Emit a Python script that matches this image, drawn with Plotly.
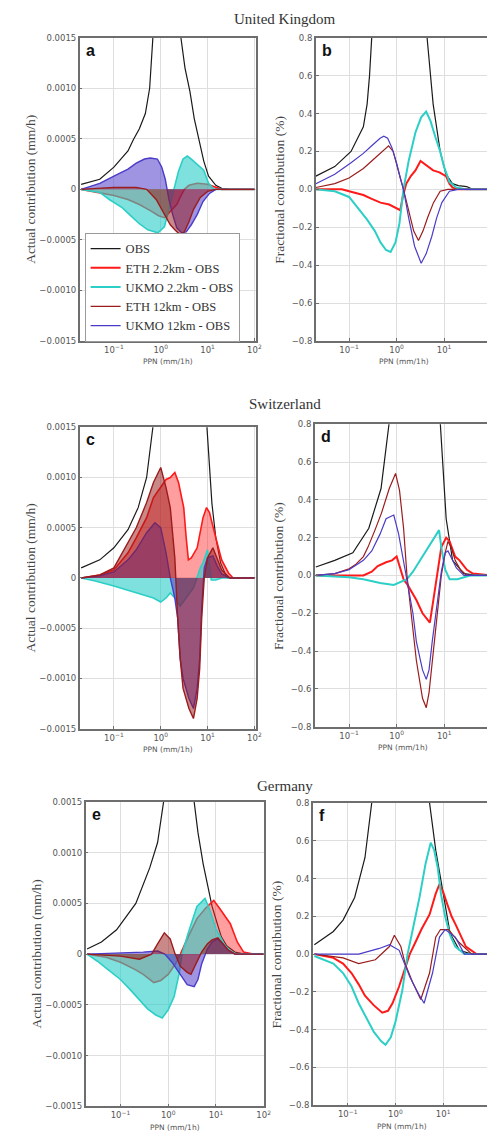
import plotly.graph_objects as go

# ---------------- data (x = PPN in mm/1h, y = contribution) ----------------
# United Kingdom - actual contribution (mm/h)
UK_OBS_ACT = [(0.02,0.00005),(0.05,0.0001),(0.1,0.00022),(0.2,0.00038),(0.26,0.00049),(0.35,0.0006),(0.47,0.00075),(0.58,0.001),(0.68,0.0015),(0.9,0.0022),(1.3,0.0028),(2.0,0.0025),(2.7,0.0015),(3.3,0.0012),(4.2,0.00097),(5.2,0.0007),(6.5,0.00049),(8.3,0.00028),(10.5,0.00013),(15,0.00004),(20,0.00001),(30,0),(100,0)]
UK_ETH22_ACT = [(0.02,0),(0.05,-0.00003),(0.1,-0.00006),(0.2,-0.0001),(0.35,-0.00015),(0.6,-0.00021),(0.9,-0.00026),(1.2,-0.00028),(1.6,-0.00022),(2.2,-0.00015),(2.8,-0.00005),(3.2,0),(4,0.00004),(6,0.00006),(10,0.00005),(15,0.00002),(20,0),(100,0)]
UK_UKMO22_ACT = [(0.02,0),(0.05,-0.00003),(0.08,-0.0001),(0.15,-0.00018),(0.24,-0.00027),(0.35,-0.00034),(0.53,-0.0004),(0.87,-0.00043),(1.2,-0.00037),(1.4,-0.00025),(1.6,-0.00014),(1.95,0),(2.4,0.00018),(3.0,0.0003),(3.7,0.00033),(4.5,0.0003),(6,0.00025),(8.3,0.00019),(10.5,0.00006),(13.7,0),(100,0)]
UK_ETH12_ACT = [(0.02,0),(0.1,0.00002),(0.3,0.00002),(0.5,0),(0.8,-0.0001),(1.0,-0.00018),(1.3,-0.00028),(1.6,-0.00035),(2.0,-0.0004),(2.6,-0.00045),(3.2,-0.00042),(4,-0.00032),(5,-0.0002),(7,-0.00008),(10,-0.00002),(15,0),(100,0)]
UK_UKMO12_ACT = [(0.02,0),(0.05,0.00006),(0.1,0.00013),(0.2,0.0002),(0.3,0.00026),(0.45,0.0003),(0.6,0.00031),(0.85,0.0003),(1.05,0.00022),(1.25,0.0001),(1.5,-0.0001),(1.8,-0.00025),(2.2,-0.00038),(2.8,-0.00043),(3.5,-0.00042),(4.5,-0.00035),(6,-0.00025),(8,-0.00012),(11,-0.00004),(15,0),(100,0)]
# United Kingdom - fractional contribution
UK_OBS_FRAC = [(0.02,0.07),(0.05,0.12),(0.11,0.2),(0.2,0.33),(0.24,0.45),(0.27,0.6),(0.3,0.8),(0.4,1.2),(1.0,2.0),(3.0,1.5),(4.4,0.8),(5.9,0.45),(8.3,0.2),(11,0.08),(15,0.03),(20,0.02),(30,0.015),(40,0),(100,0)]
UK_ETH22_FRAC = [(0.02,0),(0.07,0),(0.1,-0.01),(0.2,-0.03),(0.3,-0.05),(0.46,-0.07),(0.7,-0.08),(1.0,-0.1),(1.2,-0.11),(1.35,-0.04),(1.6,0.03),(2.0,0.07),(2.5,0.1),(3.2,0.15),(4.0,0.13),(5.9,0.1),(8,0.09),(11,0.07),(13,0.03),(15,0.01),(20,0),(100,0)]
UK_UKMO22_FRAC = [(0.02,0),(0.05,-0.01),(0.1,-0.04),(0.24,-0.16),(0.35,-0.22),(0.46,-0.28),(0.6,-0.32),(0.75,-0.33),(0.95,-0.28),(1.15,-0.18),(1.4,0),(1.8,0.15),(2.5,0.3),(3.3,0.38),(4.2,0.41),(5.2,0.36),(6.5,0.28),(8.3,0.2),(10,0.12),(13,0.04),(18,0.01),(30,0),(100,0)]
UK_ETH12_FRAC = [(0.02,0.01),(0.05,0.03),(0.1,0.06),(0.2,0.11),(0.3,0.15),(0.45,0.19),(0.68,0.23),(0.85,0.2),(1.0,0.14),(1.2,0.06),(1.4,0),(1.8,-0.12),(2.3,-0.22),(2.9,-0.27),(3.6,-0.22),(4.5,-0.15),(6,-0.07),(8.3,-0.01),(12,0),(100,0)]
UK_UKMO12_FRAC = [(0.02,0.03),(0.05,0.08),(0.11,0.14),(0.2,0.19),(0.3,0.23),(0.45,0.27),(0.54,0.28),(0.65,0.27),(0.8,0.22),(1.0,0.14),(1.2,0.06),(1.4,0),(1.8,-0.15),(2.4,-0.3),(3.3,-0.39),(4.2,-0.34),(5.5,-0.25),(7,-0.15),(9,-0.07),(13,-0.01),(20,0),(100,0)]

# Switzerland - actual contribution (mm/h)
CH_OBS_ACT = [(0.02,0.0001),(0.05,0.00018),(0.1,0.0003),(0.2,0.00048),(0.33,0.0007),(0.5,0.001),(0.68,0.0015),(1,0.0025),(3,0.004),(7,0.003),(9.7,0.0015),(12.4,0.00074),(15,0.0004),(19,0.00015),(26,0),(100,0)]
CH_ETH22_ACT = [(0.02,0),(0.05,0.00003),(0.1,0.00008),(0.2,0.00025),(0.3,0.0004),(0.5,0.0006),(0.7,0.0008),(1.0,0.0009),(1.3,0.00098),(1.6,0.001),(2.0,0.00105),(2.4,0.00095),(2.8,0.0008),(3.1,0.0007),(3.5,0.0004),(3.9,0.00018),(4.5,0.0002),(6,0.0003),(8,0.0006),(9.5,0.0007),(11,0.00065),(13,0.0005),(15,0.0004),(20,0.00018),(28,0.00005),(35,0),(100,0)]
CH_UKMO22_ACT = [(0.02,0),(0.04,-0.00003),(0.1,-0.00008),(0.2,-0.00012),(0.3,-0.00015),(0.5,-0.00018),(0.7,-0.0002),(1.0,-0.00024),(1.3,-0.0002),(1.6,-0.00015),(2.0,-0.0002),(2.6,-0.00028),(3.5,-0.0002),(5,-0.0001),(7,0.0001),(8,0.00015),(10,0.00028),(11,0.0001),(12,-0.00002),(15,-0.00002),(20,0),(100,0)]
CH_ETH12_ACT = [(0.02,0),(0.05,0.00003),(0.1,0.0001),(0.2,0.00035),(0.3,0.0005),(0.5,0.00075),(0.7,0.00095),(1.0,0.0011),(1.3,0.0009),(1.6,0.0007),(2.0,0.0002),(2.3,-0.0004),(2.6,-0.0008),(3.0,-0.0011),(4.0,-0.0013),(5,-0.0014),(6,-0.0012),(6.8,-0.0009),(7.5,-0.0004),(8.5,0),(10,0.0002),(13,0.0003),(16,0.0002),(20,0.00008),(30,0),(100,0)]
CH_UKMO12_ACT = [(0.02,0),(0.05,0.00002),(0.1,0.00006),(0.2,0.00018),(0.3,0.00028),(0.5,0.00045),(0.75,0.00055),(1.0,0.0005),(1.3,0.00025),(1.6,0),(2.0,-0.0002),(2.3,-0.0004),(2.6,-0.0008),(3.0,-0.001),(4.0,-0.0012),(5,-0.0013),(6,-0.0011),(6.8,-0.0008),(7.5,-0.0003),(8.5,0.0001),(10,0.0002),(13,0.00022),(16,0.00012),(20,0.00004),(30,0),(100,0)]
# Switzerland - fractional contribution
CH_OBS_FRAC = [(0.02,0.045),(0.05,0.08),(0.12,0.12),(0.26,0.25),(0.47,0.46),(0.69,0.8),(1,1.4),(2,1.8),(5,1.5),(8.3,0.8),(11,0.3),(15,0.08),(26,0.01),(50,0),(100,0)]
CH_ETH22_FRAC = [(0.02,0),(0.2,0),(0.3,0.02),(0.4,0.05),(0.6,0.07),(0.8,0.08),(1.0,0.1),(1.15,0.05),(1.4,-0.02),(1.7,-0.05),(2.2,-0.1),(2.6,-0.13),(3.5,-0.2),(4.3,-0.23),(5,-0.25),(6,-0.12),(7,0),(8.7,0.15),(11,0.2),(13,0.18),(17,0.1),(21,0.08),(30,0.03),(40,0.01),(100,0)]
CH_UKMO22_FRAC = [(0.02,0),(0.1,-0.01),(0.2,-0.02),(0.45,-0.04),(0.87,-0.05),(1.3,-0.03),(1.65,-0.02),(2.2,0.02),(3.1,0.08),(4.3,0.13),(5.6,0.18),(7,0.22),(7.8,0.24),(8.7,0.15),(10.5,0.03),(13,-0.02),(19,-0.02),(35,0),(100,0)]
CH_ETH12_FRAC = [(0.02,0),(0.05,0.01),(0.1,0.035),(0.14,0.06),(0.2,0.1),(0.25,0.15),(0.35,0.24),(0.48,0.33),(0.7,0.46),(0.95,0.54),(1.15,0.45),(1.4,0.25),(1.65,0),(2.0,-0.2),(2.6,-0.45),(3.5,-0.65),(4.2,-0.7),(4.8,-0.62),(5.6,-0.45),(7,-0.22),(8.7,0),(10.5,0.12),(12,0.18),(14,0.15),(17,0.08),(22,0.03),(30,0),(100,0)]
CH_UKMO12_FRAC = [(0.02,0),(0.05,0.01),(0.1,0.03),(0.2,0.08),(0.3,0.13),(0.45,0.22),(0.6,0.3),(0.87,0.32),(1.1,0.22),(1.4,0.08),(1.75,-0.05),(2.2,-0.2),(2.6,-0.35),(3.5,-0.5),(4.2,-0.55),(4.8,-0.5),(5.6,-0.35),(7,-0.15),(8.7,0.02),(10.5,0.12),(12,0.13),(15,0.08),(18,0.04),(26,0),(100,0)]

# Germany - actual contribution (mm/h)
DE_OBS_ACT = [(0.02,0.00005),(0.04,0.00012),(0.083,0.00024),(0.21,0.0005),(0.41,0.00085),(0.6,0.0011),(0.8,0.0015),(1.2,0.0022),(2,0.0026),(3,0.0022),(3.5,0.0015),(4.2,0.0012),(5.4,0.00089),(6.6,0.0007),(8.3,0.00047),(11,0.00028),(13,0.00017),(17,0.00008),(25,0.00002),(40,0),(100,0)]
DE_ETH22_ACT = [(0.02,0),(0.05,-0.00003),(0.1,-0.00008),(0.2,-0.00015),(0.3,-0.0002),(0.5,-0.00028),(0.7,-0.00026),(1,-0.0002),(1.4,-0.0001),(1.8,0),(2.5,0.00015),(4,0.00035),(6,0.00045),(9,0.00053),(12,0.00045),(16,0.00036),(20,0.0003),(28,0.00012),(38,0.00002),(60,0),(100,0)]
DE_UKMO22_ACT = [(0.02,0),(0.033,-0.00007),(0.054,-0.00015),(0.1,-0.00025),(0.16,-0.00035),(0.37,-0.00054),(0.55,-0.0006),(0.75,-0.00063),(1.0,-0.00055),(1.33,-0.00042),(1.7,-0.00019),(1.95,0),(2.6,0.0002),(4.0,0.00047),(5.9,0.00055),(7.5,0.00043),(10,0.00025),(14.7,0.0001),(20,0.00003),(27,0),(100,0)]
DE_ETH12_ACT = [(0.02,0),(0.1,-0.00002),(0.25,-0.00005),(0.45,0),(0.6,0.0001),(0.83,0.00021),(1.1,0.00015),(1.4,0),(1.8,-0.00012),(2.5,-0.00018),(3,-0.0002),(3.8,-0.0001),(5,0.00002),(6.6,0.0001),(8.3,0.00014),(11,0.00016),(14,0.0001),(18,0.00004),(25,0),(100,0)]
DE_UKMO12_ACT = [(0.02,0),(0.1,0.00001),(0.3,0.00002),(0.6,0.00003),(0.85,0),(1.2,-0.00008),(1.7,-0.00018),(2.5,-0.0003),(3.5,-0.00032),(4.2,-0.00025),(5,-0.0001),(6.6,0.00005),(8.3,0.00012),(11,0.00015),(14,0.0001),(18,0.00004),(25,0),(100,0)]
# Germany - fractional contribution
DE_OBS_FRAC = [(0.02,0.05),(0.05,0.12),(0.08,0.18),(0.14,0.3),(0.23,0.51),(0.33,0.8),(0.5,1.2),(1,2.0),(2,2.0),(4,1.1),(5.2,0.8),(7,0.55),(9.7,0.34),(14,0.11),(22,0.02),(40,0),(100,0)]
DE_ETH22_FRAC = [(0.02,0),(0.05,-0.02),(0.08,-0.05),(0.12,-0.1),(0.17,-0.16),(0.23,-0.22),(0.35,-0.27),(0.53,-0.31),(0.7,-0.3),(0.87,-0.26),(1.2,-0.17),(1.6,-0.08),(2.0,0),(2.6,0.06),(3.5,0.13),(5.2,0.21),(7,0.32),(8.4,0.37),(10,0.33),(12,0.27),(15,0.2),(18,0.16),(23,0.1),(30,0.04),(50,0),(100,0)]
DE_UKMO22_FRAC = [(0.02,-0.01),(0.05,-0.05),(0.08,-0.1),(0.12,-0.17),(0.17,-0.26),(0.25,-0.34),(0.35,-0.41),(0.5,-0.46),(0.62,-0.48),(0.8,-0.44),(1.0,-0.36),(1.4,-0.19),(1.8,0),(2.4,0.15),(3.2,0.3),(4.3,0.48),(5.5,0.59),(6.5,0.55),(7.7,0.46),(9,0.32),(11,0.2),(14,0.1),(18,0.04),(28,0),(100,0)]
DE_ETH12_FRAC = [(0.02,0),(0.08,-0.02),(0.17,-0.05),(0.38,-0.03),(0.75,0.04),(0.95,0.1),(1.3,0.04),(1.6,-0.05),(2.3,-0.15),(3.4,-0.24),(5.2,-0.1),(7,0.09),(8.8,0.13),(13,0.13),(22,0.06),(40,0),(100,0)]
DE_UKMO12_FRAC = [(0.02,0),(0.17,0),(0.46,0.03),(0.75,0.05),(1.2,0.02),(2.0,-0.12),(3.2,-0.22),(4,-0.26),(6,-0.1),(8.4,0.09),(11,0.13),(18,0.09),(28,0),(100,0)]

SERIES_NAMES = ["OBS", "ETH 2.2km - OBS", "UKMO 2.2km - OBS", "ETH 12km - OBS", "UKMO 12km - OBS"]
COUNTRIES = ["United Kingdom", "Switzerland", "Germany"]
PANEL_LETTERS = ["a", "b", "c", "d", "e", "f"]
X_TICKS = [0.1, 1, 10, 100]
X_TICK_TEXT = ["10<sup>\u22121</sup>", "10<sup>0</sup>", "10<sup>1</sup>", "10<sup>2</sup>"]
ACT_TICKS = [0.0015, 0.001, 0.0005, 0, -0.0005, -0.001, -0.0015]
ACT_TICK_TEXT = ["0.0015", "0.0010", "0.0005", "0", "\u22120.0005", "\u22120.0010", "\u22120.0015"]
FRAC_TICKS = [0.8, 0.6, 0.4, 0.2, 0.0, -0.2, -0.4, -0.6, -0.8]
FRAC_TICK_TEXT = ["0.8", "0.6", "0.4", "0.2", "0.0", "\u22120.2", "\u22120.4", "\u22120.6", "\u22120.8"]

# ---------------- styling ----------------
W, H = 495, 1142
COLORS = ["#1a1a1a", "#ff1a1a", "#2ccfc6", "#9b1c1c", "#4a3cc8"]
FILLS = ["rgba(0,0,0,0)", "rgba(255,40,40,0.45)", "rgba(40,205,200,0.6)",
         "rgba(150,20,20,0.5)", "rgba(80,60,200,0.55)"]
LINE_W_ACT = [1.2, 1.6, 1.6, 1.4, 1.4]
LINE_W_FRAC = [1.2, 2.0, 2.0, 1.2, 1.2]
# drawing order in the filled (actual) panels: dark red fill over the blue one
ACT_DRAW_ORDER = [0, 1, 2, 4, 3]
FRAC_DRAW_ORDER = [0, 1, 2, 3, 4]

SERIF = "Liberation Serif, DejaVu Serif, serif"
SANS = "DejaVu Sans, Arial, sans-serif"

# panel pixel boxes: (left, right, top, bottom), x range in log10
PANELS = [
    dict(box=(81, 260, 33, 339), xr=(-1.73, 2.03), kind="act"),
    dict(box=(321, 495, 33, 339), xr=(-1.70, 1.905), kind="frac"),
    dict(box=(81, 260, 426, 730), xr=(-1.73, 2.03), kind="act"),
    dict(box=(320, 495, 423, 728), xr=(-1.72, 1.90), kind="frac"),
    dict(box=(87, 268, 804, 1111), xr=(-1.73, 2.0), kind="act"),
    dict(box=(318, 495, 805, 1110), xr=(-1.73, 1.92), kind="frac"),
]
DATA = [
    [UK_OBS_ACT, UK_ETH22_ACT, UK_UKMO22_ACT, UK_ETH12_ACT, UK_UKMO12_ACT],
    [UK_OBS_FRAC, UK_ETH22_FRAC, UK_UKMO22_FRAC, UK_ETH12_FRAC, UK_UKMO12_FRAC],
    [CH_OBS_ACT, CH_ETH22_ACT, CH_UKMO22_ACT, CH_ETH12_ACT, CH_UKMO12_ACT],
    [CH_OBS_FRAC, CH_ETH22_FRAC, CH_UKMO22_FRAC, CH_ETH12_FRAC, CH_UKMO12_FRAC],
    [DE_OBS_ACT, DE_ETH22_ACT, DE_UKMO22_ACT, DE_ETH12_ACT, DE_UKMO12_ACT],
    [DE_OBS_FRAC, DE_ETH22_FRAC, DE_UKMO22_FRAC, DE_ETH12_FRAC, DE_UKMO12_FRAC],
]

def px_x(p):
    return p / W

def px_y(p):
    return 1 - p / H

fig = go.Figure()
layout = {}
annotations = []

for i, (panel, series) in enumerate(zip(PANELS, DATA)):
    n = i + 1
    xa = "x" if n == 1 else f"x{n}"
    ya = "y" if n == 1 else f"y{n}"
    l, r, t, b = panel["box"]
    act = panel["kind"] == "act"
    for j in (ACT_DRAW_ORDER if act else FRAC_DRAW_ORDER):
        pts = series[j]
        xs = [p[0] for p in pts]
        ys = [p[1] for p in pts]
        kw = {}
        if act and j > 0:
            kw = dict(fill="tozeroy", fillcolor=FILLS[j])
        fig.add_trace(go.Scatter(
            x=xs, y=ys, mode="lines", xaxis=xa, yaxis=ya,
            name=SERIES_NAMES[j],
            line=dict(color=COLORS[j], width=(LINE_W_ACT if act else LINE_W_FRAC)[j]),
            showlegend=(n == 2), legendrank=j + 1,
            hoverinfo="skip", **kw))
    axis_common = dict(showgrid=True, gridcolor="#dedede", gridwidth=1,
                       showline=True, linecolor="#6e6e6e", linewidth=1.5,
                       ticks="inside", ticklen=3, tickcolor="#6e6e6e",
                       tickfont=dict(family=SANS, size=8.5, color="#555555"),
                       zeroline=False, fixedrange=True)
    layout["xaxis" if n == 1 else f"xaxis{n}"] = dict(
        domain=[px_x(l), px_x(r)], anchor=ya, type="log",
        range=list(panel["xr"]), tickvals=X_TICKS, ticktext=X_TICK_TEXT,
        mirror=True, **axis_common)
    if act:
        yextra = dict(range=[-0.0015, 0.0015], tickvals=ACT_TICKS, ticktext=ACT_TICK_TEXT, mirror=True)
    else:
        yextra = dict(range=[-0.8, 0.8], tickvals=FRAC_TICKS, ticktext=FRAC_TICK_TEXT, mirror=False)
    layout["yaxis" if n == 1 else f"yaxis{n}"] = dict(
        domain=[px_y(b), px_y(t)], anchor=xa, **yextra, **axis_common)
    # panel letter
    annotations.append(dict(x=px_x(l + 4), y=px_y(t + 2), xref="paper", yref="paper",
                            text=f"<b>{PANEL_LETTERS[i]}</b>", showarrow=False,
                            xanchor="left", yanchor="top",
                            font=dict(family="Liberation Sans, Arial, sans-serif", size=16, color="#111")))
    # y title
    annotations.append(dict(x=px_x(l - 50 if act else l - 37), y=px_y((t + b) / 2),
                            xref="paper", yref="paper",
                            text="Actual contribution (mm/h)" if act else "Fractional contribution (%)",
                            textangle=-90, showarrow=False, xanchor="center", yanchor="middle",
                            font=dict(family=SERIF, size=13.5, color="#444")))
    # x title
    annotations.append(dict(x=px_x((l + (r if act else r + 5)) / 2), y=px_y(b + 21),
                            xref="paper", yref="paper", text="PPN (mm/1h)", showarrow=False,
                            xanchor="center", yanchor="middle",
                            font=dict(family=SANS, size=7.5, color="#555")))

for k, (country, ypx) in enumerate(zip(COUNTRIES, [14, 403, 788])):
    annotations.append(dict(x=px_x(290), y=px_y(ypx), xref="paper", yref="paper",
                            text=country, showarrow=False, xanchor="center", yanchor="middle",
                            font=dict(family=SERIF, size=15, color="#333")))

fig.update_layout(
    width=W, height=H, margin=dict(l=0, r=0, t=0, b=0),
    paper_bgcolor="white", plot_bgcolor="white",
    annotations=annotations,
    legend=dict(x=px_x(86), y=px_y(230), xanchor="left", yanchor="top",
                bgcolor="white", bordercolor="#9a9a9a", borderwidth=1,
                font=dict(family=SERIF, size=12.5, color="#333"),
                tracegroupgap=0, itemwidth=30),
    **layout)

fig.write_html("out.html")
